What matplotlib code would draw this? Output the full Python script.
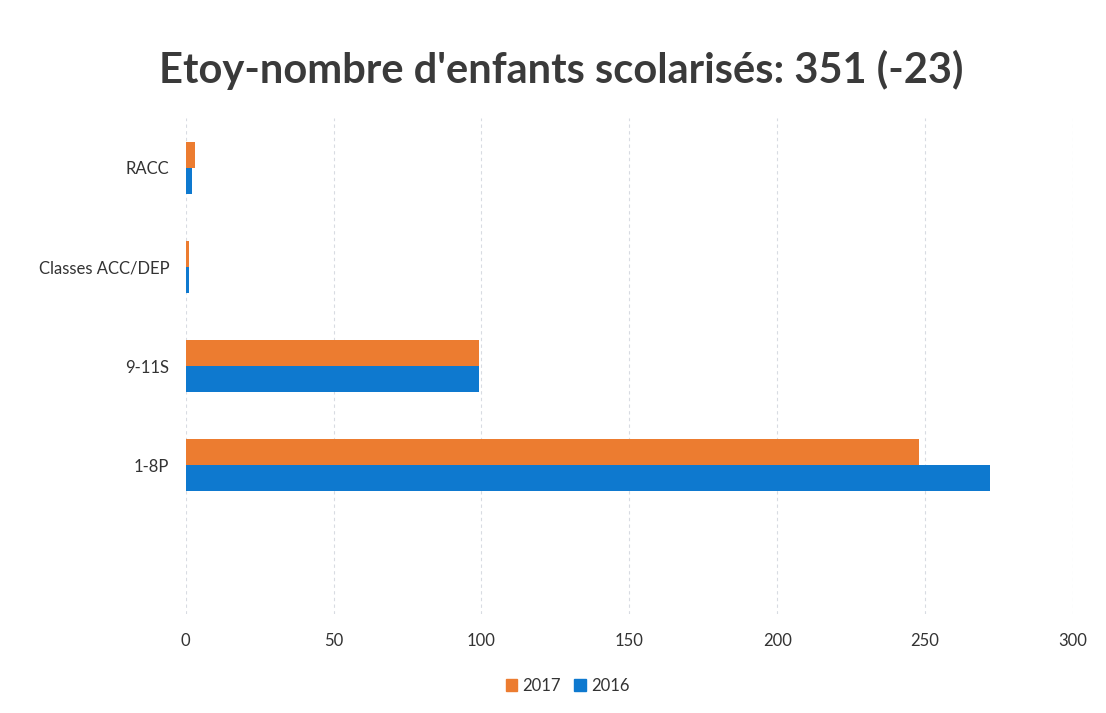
import numpy as np
import matplotlib
matplotlib.use('Agg')
import matplotlib.pyplot as plt
from matplotlib.patches import Patch

# categories listed bottom to top
categories = ['1-8P', '9-11S', 'Classes ACC/DEP', 'RACC']
values_2017 = [248, 99, 1, 3]
values_2016 = [272, 99, 1, 2]
series_labels = ['2017', '2016']
x_ticks = [0, 50, 100, 150, 200, 250, 300]

orange = '#EC7C30'
blue = '#0E79CF'

plt.rcParams['font.family'] = ['Lato', 'DejaVu Sans']

fig = plt.figure(figsize=(11.06, 7.13), dpi=100)
ax = fig.add_axes([0.168, 0.139, 0.802, 0.695])

y = np.arange(len(categories))
h = 0.26
ax.barh(y + h / 2, values_2017, height=h, color=orange, label=series_labels[0])
ax.barh(y - h / 2, values_2016, height=h, color=blue, label=series_labels[1])

ax.set_xlim(0, 300)
# empty room below the first category, as in the original sheet
ax.set_ylim(-1.5, len(categories) - 0.5)
ax.set_xticks(x_ticks)
ax.set_yticks(y)
ax.set_yticklabels(categories)
ax.tick_params(length=0, labelsize=12, colors='#333333')
ax.tick_params(axis='x', pad=14)
ax.tick_params(axis='y', pad=12)

for s in ax.spines.values():
    s.set_visible(False)
ax.grid(True, axis='x', color='#d8dbe2', linestyle=(0, (3, 3)), linewidth=0.8)
ax.set_axisbelow(True)

fig.text(0.507, 0.902, "Etoy-nombre d'enfants scolarisés: 351 (-23)",
         ha='center', va='center', fontsize=30, fontweight='bold', color='#3a3a3a')

handles = [Patch(color=orange), Patch(color=blue)]
fig.legend(handles, series_labels, loc='center', bbox_to_anchor=(0.513, 0.038),
           ncol=2, frameon=False, fontsize=12, handlelength=0.7, handleheight=0.7,
           handletextpad=0.3, columnspacing=0.8, labelcolor='#333333')

fig.savefig('out.png', dpi=100)
